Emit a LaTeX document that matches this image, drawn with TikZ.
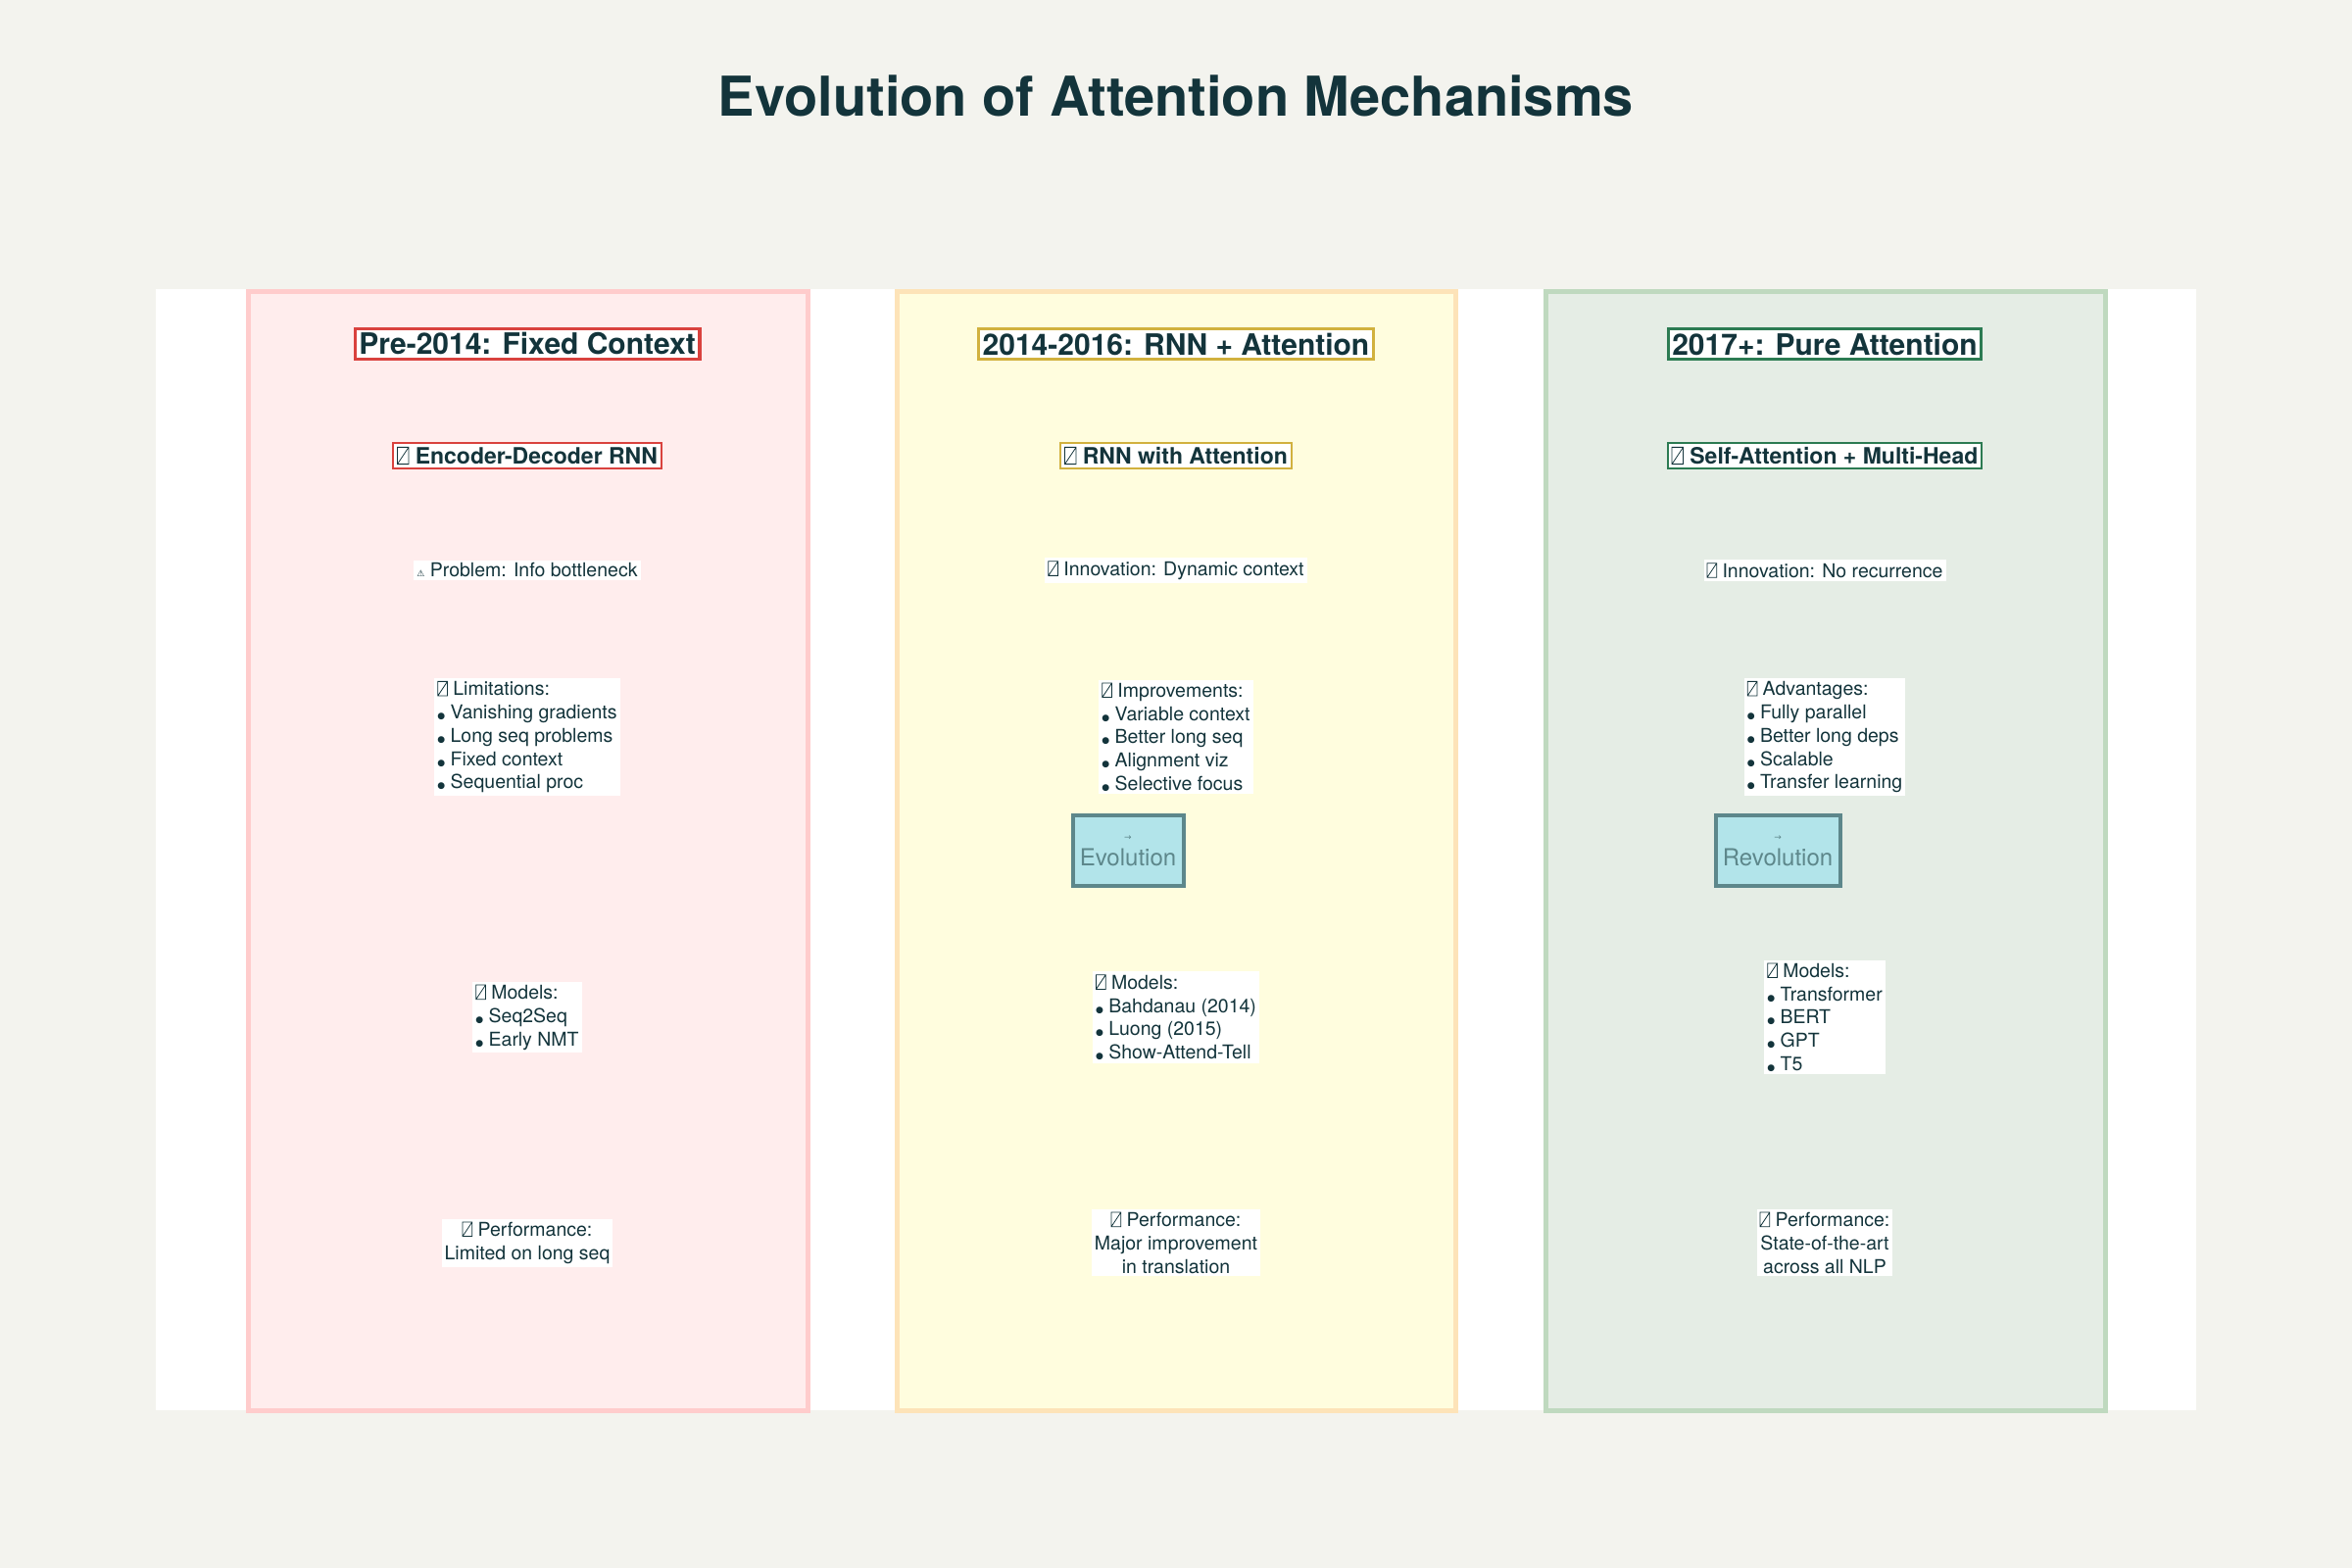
\documentclass[tikz,border=0pt]{standalone}
\usepackage{fontspec}
\setmainfont{TeX Gyre Heros}
\newfontfamily\symfont{DejaVu Sans}
\usetikzlibrary{positioning}
\definecolor{ink}{HTML}{13343B}
\definecolor{pagebg}{HTML}{F3F3EE}
\definecolor{redline}{HTML}{D9423E}
\definecolor{goldline}{HTML}{D1B13E}
\definecolor{greenline}{HTML}{2C7B52}
\definecolor{tealfill}{HTML}{B2E4EA}
\definecolor{tealline}{HTML}{5D878B}
\newcommand{\nog}{\tikz[baseline=0pt]\draw[ink,line width=0.8pt] (0,0) rectangle (0.5em,0.75em) (0,0) -- (0.5em,0.75em);}
\newcommand{\bul}{{\symfont\small●}}
\tikzset{
  era/.style={draw=#1, line width=5pt},
  head/.style={draw=#1, line width=3.5pt, fill=white, inner sep=4pt, text=ink,
    font=\fontsize{30}{36}\selectfont\bfseries},
  arch/.style={draw=#1, line width=2pt, fill=white, inner sep=4pt, text=ink,
    font=\fontsize{23}{28}\selectfont\bfseries},
  note/.style={fill=white, inner sep=3pt, text=ink, align=left,
    font=\fontsize{19.5}{23.7}\selectfont},
  perf/.style={note, align=center},
  step/.style={draw=tealline, line width=4pt, fill=tealfill, text=tealline,
    align=center, minimum width=#1, minimum height=72pt, inner sep=2pt,
    font=\fontsize{24}{26}\selectfont}
}
\begin{document}
\begin{tikzpicture}[x=1pt, y=-1pt]
  % page and panel
  \fill[pagebg] (0,0) rectangle (2400,1600);
  \useasboundingbox (0,0) rectangle (2400,1600);
  \fill[white] (159,295) rectangle (2241,1439);
  \node[text=ink, font=\fontsize{56}{64}\selectfont\bfseries] (title) at (1200,98) {Evolution of Attention Mechanisms};

  % era columns
  \draw[era={red!20}, fill={red!7}] (253,297) rectangle (824,1439);
  \draw[era={yellow!20!orange!25}, fill={yellow!13}] (915,297) rectangle (1485,1439);
  \draw[era={green!40!black!25}, fill={green!30!black!10!white}] (1577,297) rectangle (2148,1439);

  % Pre-2014
  \node[head=redline] (hdA) at (538,351) {Pre-2014: Fixed Context};
  \node[arch=redline] (arA) at (538,465) {\nog{} Encoder-Decoder RNN};
  \node[note] (prA) at (538,582) {{\symfont\small⚠} Problem: Info bottleneck};
  \node[note] (liA) at (538,752) {\nog{} Limitations:\\\bul{} Vanishing gradients\\\bul{} Long seq problems\\\bul{} Fixed context\\\bul{} Sequential proc};
  \node[note] (moA) at (538,1038) {\nog{} Models:\\\bul{} Seq2Seq\\\bul{} Early NMT};
  \node[perf] (peA) at (538,1268) {\nog{} Performance:\\Limited on long seq};

  % 2014-2016
  \node[head=goldline] (hdB) at (1200,351) {2014-2016: RNN + Attention};
  \node[arch=goldline] (arB) at (1200,465) {\nog{} RNN with Attention};
  \node[note] (prB) at (1200,582) {\nog{} Innovation: Dynamic context};
  \node[note] (liB) at (1200,752) {\nog{} Improvements:\\\bul{} Variable context\\\bul{} Better long seq\\\bul{} Alignment viz\\\bul{} Selective focus};
  \node[step=113pt] (evB) at (1151,868) {{\symfont\small→}\\Evolution};
  \node[note] (moB) at (1200,1038) {\nog{} Models:\\\bul{} Bahdanau (2014)\\\bul{} Luong (2015)\\\bul{} Show-Attend-Tell};
  \node[perf] (peB) at (1200,1268) {\nog{} Performance:\\Major improvement\\in translation};

  % 2017+
  \node[head=greenline] (hdC) at (1862,351) {2017+: Pure Attention};
  \node[arch=greenline] (arC) at (1862,465) {\nog{} Self-Attention + Multi-Head};
  \node[note] (prC) at (1862,582) {\nog{} Innovation: No recurrence};
  \node[note] (liC) at (1862,752) {\nog{} Advantages:\\\bul{} Fully parallel\\\bul{} Better long deps\\\bul{} Scalable\\\bul{} Transfer learning};
  \node[step=127pt] (evC) at (1814,868) {{\symfont\small→}\\Revolution};
  \node[note] (moC) at (1862,1038) {\nog{} Models:\\\bul{} Transformer\\\bul{} BERT\\\bul{} GPT\\\bul{} T5};
  \node[perf] (peC) at (1862,1268) {\nog{} Performance:\\State-of-the-art\\across all NLP};
\end{tikzpicture}
\end{document}
